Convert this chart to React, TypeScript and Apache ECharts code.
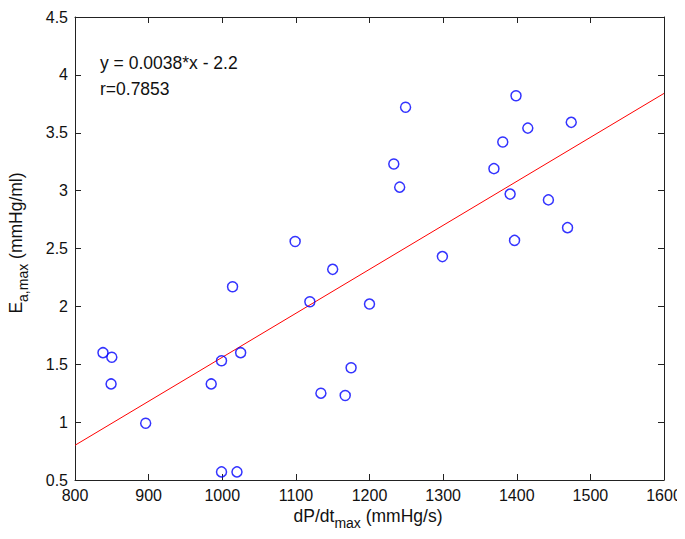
import React, { useEffect, useRef } from 'react';
import * as echarts from 'echarts';

const dpdtMax = [838, 850, 849, 896, 985, 999, 1014, 1025, 999, 1020, 1119, 1134, 1167, 1175, 1200, 1099, 1150, 1249, 1233, 1241, 1299, 1369, 1381, 1399, 1415, 1391, 1397, 1443, 1474, 1469];
const eaMax = [1.6, 1.56, 1.33, 0.99, 1.33, 1.53, 2.17, 1.6, 0.57, 0.57, 2.04, 1.25, 1.23, 1.47, 2.02, 2.56, 2.32, 3.72, 3.23, 3.03, 2.43, 3.19, 3.42, 3.82, 3.54, 2.97, 2.57, 2.92, 3.59, 2.68];
const fitX = [800, 1600];
const fitY = [0.8, 3.84];
const fitEquation = 'y = 0.0038*x - 2.2';
const fitR = 'r=0.7853';
const xName = ['dP/dt', 'max', ' (mmHg/s)'];
const yName = ['E', 'a,max', ' (mmHg/ml)'];

const FONT = '"Liberation Sans", Arial, Helvetica, sans-serif';
const MAIN = 16;
const TITLE = 17.5;
const SUB = 14;

function measure(text: string, size: number): number {
  const c = document.createElement('canvas').getContext('2d');
  if (!c) return text.length * size * 0.55;
  c.font = `${size}px ${FONT}`;
  return c.measureText(text).width;
}

function subLabel(parts: string[], cx: number, cy: number, rotation: number) {
  const w0 = measure(parts[0], TITLE);
  const w1 = measure(parts[1], SUB);
  const w2 = measure(parts[2], TITLE);
  const start = -(w0 + w1 + w2) / 2;
  const st = (text: string, size: number) => ({ text, fontSize: size, fontFamily: FONT, fill: '#111', align: 'left', verticalAlign: 'middle' });
  return {
    type: 'group',
    x: cx,
    y: cy,
    rotation,
    children: [
      { type: 'text', x: start, y: 0, style: st(parts[0], TITLE) },
      { type: 'text', x: start + w0, y: 7, style: st(parts[1], SUB) },
      { type: 'text', x: start + w0 + w1, y: 0, style: st(parts[2], TITLE) },
    ],
  };
}

export default function App() {
  const ref = useRef<HTMLDivElement>(null);
  useEffect(() => {
    if (!ref.current) return;
    const chart = echarts.init(ref.current, null, { renderer: 'svg' });
    const axisCommon = {
      type: 'value' as const,
      axisLine: { show: true, lineStyle: { color: '#222', width: 1 } },
      axisTick: { show: true, inside: true, length: 6, lineStyle: { color: '#222' } },
      splitLine: { show: false },
    };
    chart.setOption({
      animation: false,
      backgroundColor: '#fff',
      grid: { left: 75, right: 21, top: 17, bottom: 59, containLabel: false },
      xAxis: [
        {
          ...axisCommon,
          min: 800, max: 1600, interval: 100,
          position: 'bottom',
          axisLabel: { color: '#111', fontSize: MAIN, fontFamily: FONT, margin: 7, formatter: (v: number) => String(v) },
        },
        {
          ...axisCommon,
          min: 800, max: 1600, interval: 100,
          position: 'top',
          axisLabel: { show: false },
        },
      ],
      yAxis: [
        {
          ...axisCommon,
          min: 0.5, max: 4.5, interval: 0.5,
          position: 'left',
          axisLabel: { color: '#111', fontSize: MAIN, fontFamily: FONT, margin: 7, formatter: (v: number) => String(v) },
        },
        {
          ...axisCommon,
          min: 0.5, max: 4.5, interval: 0.5,
          position: 'right',
          axisLabel: { show: false },
        },
      ],
      series: [
        {
          type: 'line',
          data: fitX.map((x, i) => [x, fitY[i]]),
          showSymbol: false,
          symbol: 'none',
          lineStyle: { color: '#f00', width: 1 },
          z: 1,
        },
        {
          type: 'scatter',
          data: dpdtMax.map((x, i) => [x, eaMax[i]]),
          symbol: 'circle',
          symbolSize: 10,
          itemStyle: { color: 'rgba(0,0,0,0)', borderColor: '#0000ff', borderWidth: 1.5 },
          z: 2,
        },
      ],
      graphic: [
        {
          type: 'text', x: 100, y: 63,
          style: { text: fitEquation, fontSize: TITLE, fontFamily: FONT, fill: '#111', verticalAlign: 'middle' },
        },
        {
          type: 'text', x: 100, y: 89,
          style: { text: fitR, fontSize: TITLE, fontFamily: FONT, fill: '#111', verticalAlign: 'middle' },
        },
        subLabel(xName, 368, 516, 0),
        subLabel(yName, 16, 243, Math.PI / 2),
      ],
    });
    return () => chart.dispose();
  }, []);
  return <div ref={ref} style={{ width: 685, height: 539, margin: -8 }} />;
}
